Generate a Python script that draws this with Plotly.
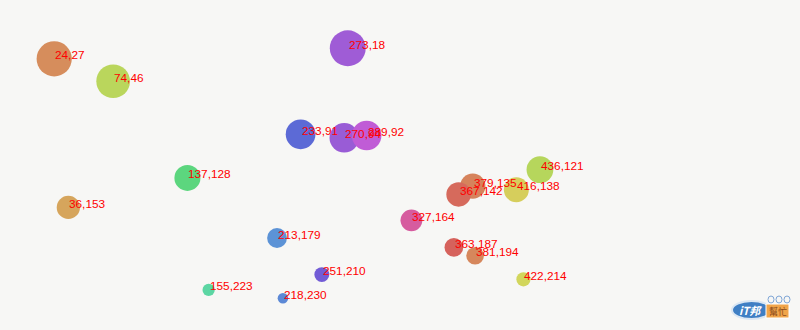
import plotly.graph_objects as go

# data: each point's x and y (labels show "x,y")
xs = [24, 74, 273, 233, 270, 289, 137, 36, 213, 155, 218, 251, 327, 379, 367, 416, 436, 363, 381, 422]
ys = [27, 46, 18, 91, 94, 92, 128, 153, 179, 223, 230, 210, 164, 135, 142, 138, 121, 187, 194, 214]
labels = [f"{x},{y}" for x, y in zip(xs, ys)]

# encodings: hue follows x, bubble area follows (250 - y)
colors = [f"hsl({x % 360},60%,60%)" for x in xs]
areas = [250 - y for y in ys]

SCALE = 1.179  # px per data unit
W, H = 800, 330
OX, OY = 25.9, 27.0

fig = go.Figure()
fig.add_trace(go.Scatter(
    x=xs, y=ys, mode="markers",
    marker=dict(size=areas, sizemode="area", sizeref=1 / (2 * SCALE ** 2),
                color=colors, line=dict(width=0), opacity=1),
    hoverinfo="skip", showlegend=False,
))

annotations = []
for x, y, t in zip(xs, ys, labels):
    annotations.append(dict(
        x=x, y=y, text=t, showarrow=False, xanchor="left", yanchor="bottom",
        xshift=-1, yshift=-5.5,
        font=dict(family="Liberation Sans, Arial, sans-serif", size=11.8, color="#ff0000"),
    ))

# small "iT邦幫忙" watermark in the corner
def px(xp):
    return xp / W

def py(yp):
    return 1 - yp / H

shapes = [
    dict(type="circle", xref="paper", yref="paper", x0=px(732), x1=px(771), y0=py(319), y1=py(301),
         fillcolor="#3f7fc4", line=dict(color="#dbe7f3", width=2), layer="above"),
    dict(type="rect", xref="paper", yref="paper", x0=px(766), x1=px(789), y0=py(318), y1=py(304),
         fillcolor="#f1a54a", line=dict(color="#ffffff", width=1), layer="above"),
]
for cx in (771, 779, 787):
    shapes.append(dict(type="circle", xref="paper", yref="paper", x0=px(cx - 3), x1=px(cx + 3),
                       y0=py(303), y1=py(296), fillcolor="rgba(0,0,0,0)",
                       line=dict(color="#7fa6d6", width=1), layer="above"))
annotations.append(dict(xref="paper", yref="paper", x=px(750), y=py(310), text="<b><i>iT邦</i></b>",
                        showarrow=False, xanchor="center", yanchor="middle",
                        font=dict(family="Noto Sans CJK TC, sans-serif", size=11, color="#ffffff")))
annotations.append(dict(xref="paper", yref="paper", x=px(777.5), y=py(311), text="幫忙",
                        showarrow=False, xanchor="center", yanchor="middle",
                        font=dict(family="Noto Sans CJK TC, sans-serif", size=9, color="#8a4a1a")))

fig.update_layout(
    width=W, height=H, margin=dict(l=0, r=0, t=0, b=0),
    paper_bgcolor="#f7f7f5", plot_bgcolor="#f7f7f5",
    xaxis=dict(range=[-OX / SCALE, (W - OX) / SCALE], visible=False, fixedrange=True),
    yaxis=dict(range=[(H - OY) / SCALE, -OY / SCALE], visible=False, fixedrange=True),
    annotations=annotations, shapes=shapes,
)

fig.write_html("out.html", config={"displayModeBar": False})
